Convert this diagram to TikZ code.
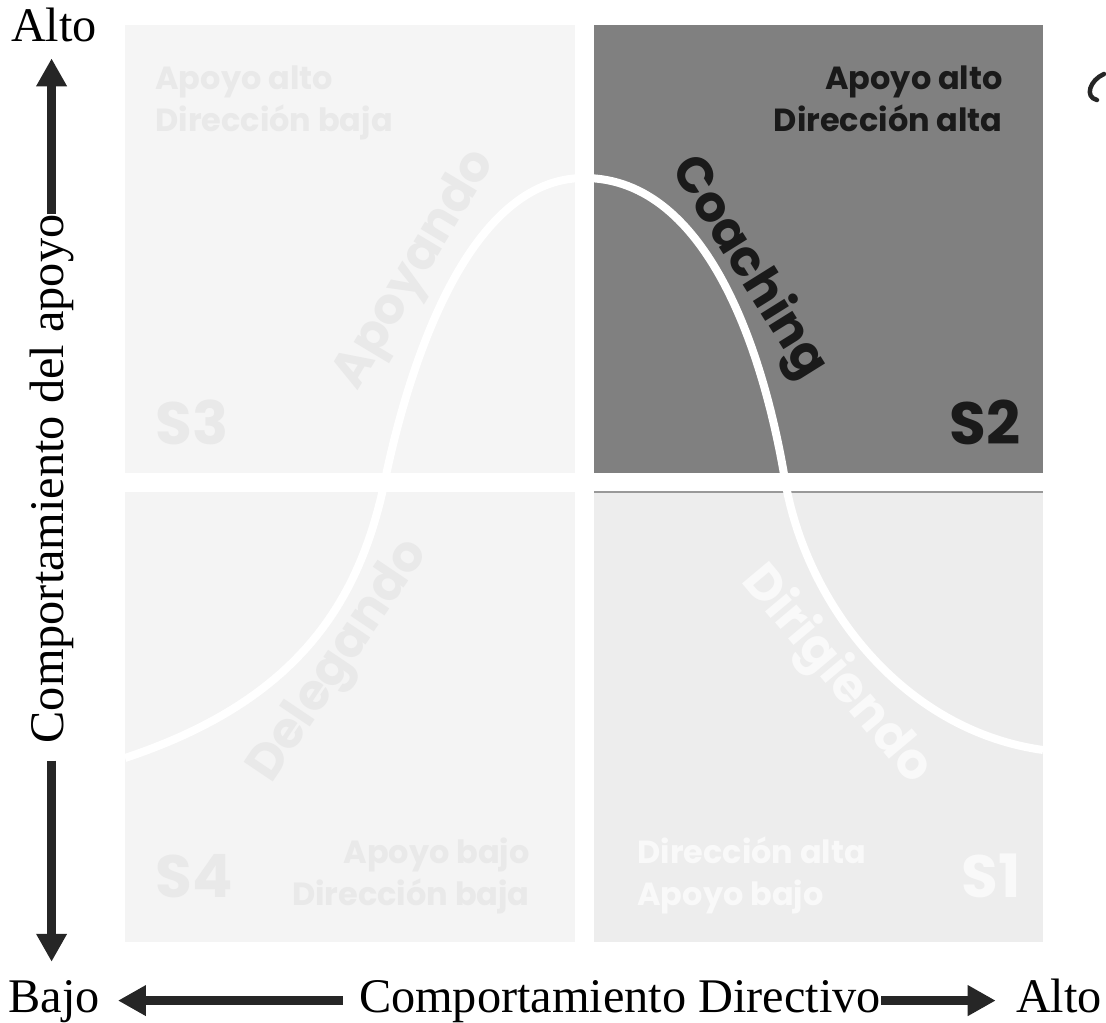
\documentclass[tikz,border=0pt]{standalone}
\usepackage{fontspec}
\setmainfont{Liberation Serif}
\setsansfont{Poppins}
\usetikzlibrary{arrows.meta}

\definecolor{axisdark}{HTML}{262626}
\definecolor{quadSthree}{HTML}{F5F5F5}
\definecolor{quadStwo}{HTML}{808080}
\definecolor{quadSfour}{HTML}{F4F4F4}
\definecolor{quadSone}{HTML}{EDEDED}
\definecolor{fadeSthree}{HTML}{E9E9E9}
\definecolor{fadeSone}{HTML}{F9F9F9}
\definecolor{inkStwo}{HTML}{1A1A1A}

\begin{document}
\begin{tikzpicture}[x=0.02cm, y=-0.02cm,
    axislabel/.style={inner sep=0pt, text height=19pt, text depth=6pt, font=\fontsize{27.5}{30}\selectfont},
    axisarrow/.style={line width=0.19cm, draw=axisdark, -{Triangle[width=0.58cm, length=0.56cm]}},
    quadtext/.style={inner sep=0pt, font=\sffamily\bfseries\fontsize{18.2}{20}\selectfont},
    stagetext/.style={inner sep=0pt, font=\sffamily\bfseries\fontsize{34}{34}\selectfont},
    curvetext/.style={inner sep=0pt, font=\sffamily\bfseries\fontsize{28.5}{28.5}\selectfont}]
        \useasboundingbox (0, 0) rectangle (1106, 1023);

        % quadrants
        \fill[quadSthree] (125, 25) rectangle (575, 473);
        \fill[quadStwo] (594, 25) rectangle (1043, 473);
        \fill[quadSfour] (125, 492) rectangle (575, 942);
        \fill[quadSone] (594, 492) rectangle (1043, 942);
        \draw[gray!80, line width=0.03cm] (594, 492) -- (1043, 492);

        % bell curve
        \draw[white, line width=0.16cm]
            (125, 758) .. controls (300, 700) and (360, 600) .. (385, 480)
            .. controls (410, 360) and (470, 178) .. (584, 178)
            .. controls (710, 178) and (765, 360) .. (785, 480)
            .. controls (805, 600) and (900, 730) .. (1043, 750);

        \node[curvetext, fadeSthree, rotate=59] (apoyando) at (416, 270) {Apoyando};
        \node[curvetext, inkStwo, rotate=-58] (coaching) at (748, 268) {Coaching};
        \node[curvetext, fadeSthree, rotate=56] (delegando) at (340, 662) {Delegando};
        \node[curvetext, fadeSone, rotate=-50] (dirigiendo) at (836, 675) {Dirigiendo};

        % S3
        \node[quadtext, fadeSthree, anchor=base west] (S3a) at (155, 90) {Apoyo alto};
        \node[quadtext, fadeSthree, anchor=base west] (S3b) at (155, 132) {Dirección baja};
        \node[stagetext, fadeSthree, anchor=base west] (S3) at (155, 445) {S3};
        % S2
        \node[quadtext, inkStwo, anchor=base east] (S2a) at (1003, 90) {Apoyo alto};
        \node[quadtext, inkStwo, anchor=base east] (S2b) at (1003, 132) {Dirección alta};
        \node[stagetext, inkStwo, anchor=base east] (S2) at (1021, 445) {S2};
        % S4
        \node[quadtext, fadeSthree, anchor=base east] (S4a) at (530, 863) {Apoyo bajo};
        \node[quadtext, fadeSthree, anchor=base east] (S4b) at (530, 905) {Dirección baja};
        \node[stagetext, fadeSthree, anchor=base west] (S4) at (155, 897) {S4};
        % S1
        \node[quadtext, fadeSone, anchor=base west] (S1a) at (637, 863) {Dirección alta};
        \node[quadtext, fadeSone, anchor=base west] (S1b) at (637, 905) {Apoyo bajo};
        \node[stagetext, fadeSone, anchor=base east] (S1) at (1021, 897) {S1};

        % axes
        \node[axislabel, anchor=base] (altoY) at (54, 42) {Alto};
        \node[axislabel, anchor=base, rotate=90] (apoyo) at (63, 479) {Comportamiento del apoyo};
        \node[axislabel, anchor=base] (bajo) at (54, 1012) {Bajo};
        \node[axislabel, anchor=base] (directivo) at (620, 1012) {Comportamiento Directivo};
        \node[axislabel, anchor=base] (altoX) at (1059, 1012) {Alto};

        \draw[axisarrow, shorten >=0.11cm] (apoyo.east) -- (apoyo.east |- altoY.south);
        \draw[axisarrow, shorten <=0.34cm, shorten >=0.33cm] (apoyo.west) -- (apoyo.west |- bajo.north);
        \draw[axisarrow, shorten <=0.32cm, shorten >=0.36cm] (directivo.west) -- (bajo.east);
        \draw[axisarrow, shorten >=0.4cm] (directivo.east) -- (altoX.west);

        % \node at (1098, 88) {};
        \draw[axisdark, line width=0.09cm, line cap=round] (1104, 74) .. controls (1090, 80) and (1084, 97) .. (1097, 100);
    \end{tikzpicture}
\end{document}
